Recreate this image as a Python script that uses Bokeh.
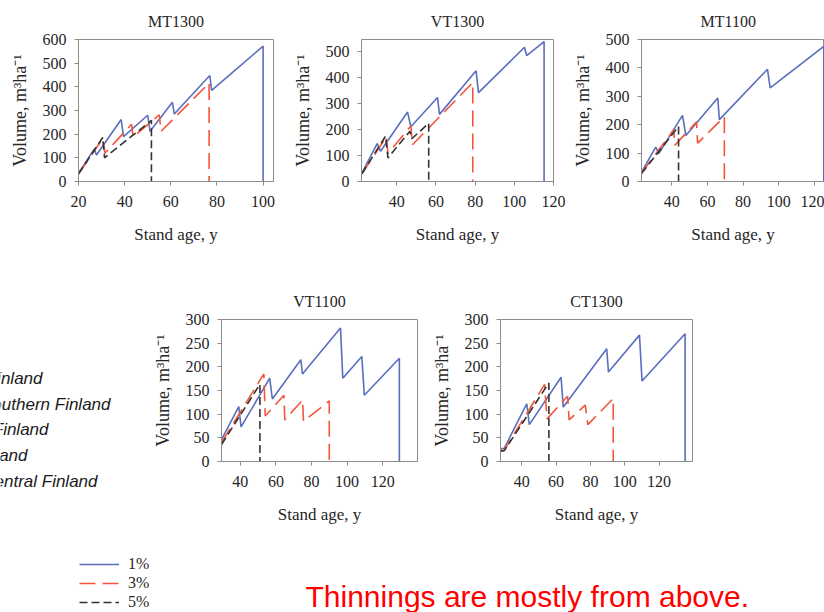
from bokeh.plotting import figure
from bokeh.layouts import row, column
from bokeh.models import Range1d, SingleIntervalTicker, Label, Legend, LegendItem
from bokeh.embed import file_html
from bokeh.resources import INLINE

# ---------------- data ----------------
series_labels = ["1%", "3%", "5%"]
panel_titles = ["MT1300", "VT1300", "MT1100", "VT1100", "CT1300"]
x_label = "Stand age, y"
y_label = "Volume, m³ha⁻¹"
note_lines = ["Finland", "Southern Finland", "Finland", "Finland", "Central Finland"]
message = "Thinnings are mostly from above."

# MT1300
mt1300_age_1 = [20, 26.8, 27.8, 38.5, 39.5, 50, 51, 60.7, 61.5, 76.9, 77.7, 100, 100]
mt1300_vol_1 = [35, 137, 112, 262, 190, 280, 212, 335, 285, 448, 385, 572, 0]
mt1300_age_3 = [20, 30.5, 31.5, 43, 43.7, 55, 55.8, 76.6, 76.6]
mt1300_vol_3 = [32, 182, 120, 242, 188, 282, 212, 416, 0]
mt1300_age_5 = [20, 30.5, 31.3, 51.6, 51.6]
mt1300_vol_5 = [32, 186, 100, 258, 0]

# VT1300
vt1300_age_1 = [22.2, 30, 31.7, 45.5, 47.2, 60.8, 61.8, 80.5, 81.7, 105.2, 106.3, 115.2, 115.2]
vt1300_vol_1 = [32, 146, 117, 268, 211, 324, 259, 427, 343, 518, 486, 540, 0]
vt1300_age_3 = [22.2, 34.7, 35.5, 47.2, 48, 78.8, 78.8]
vt1300_vol_3 = [30, 172, 108, 214, 142, 382, 0]
vt1300_age_5 = [22.2, 34.3, 35.5, 46.7, 47.7, 56.3, 56.3]
vt1300_vol_5 = [30, 175, 91, 194, 165, 225, 0]

# MT1100
mt1100_age_1 = [23, 31, 32.7, 46, 47.9, 65.8, 66.7, 93.7, 95.2, 125.3, 125.3]
mt1100_vol_1 = [33, 121, 98, 233, 162, 294, 218, 395, 330, 476, 0]
mt1100_age_3 = [23, 41.1, 41.6, 53.9, 54.5, 69.5, 69.5]
mt1100_vol_3 = [30, 182, 127, 210, 135, 228, 0]
mt1100_age_5 = [23, 43.8, 43.8]
mt1100_vol_5 = [28, 194, 0]

# VT1100
vt1100_age_1 = [29.4, 39.1, 40.4, 56.5, 58, 74, 74.9, 96.3, 97.6, 108.3, 109.7, 129.4, 129.4]
vt1100_vol_1 = [46, 116, 73, 176, 132, 215, 185, 282, 176, 222, 140, 218, 0]
vt1100_age_3 = [29.4, 53.2, 54, 64.5, 65, 75, 75.5, 90, 90]
vt1100_vol_3 = [40, 185, 96, 140, 88, 130, 85, 128, 0]
vt1100_age_5 = [29.4, 51, 51]
vt1100_vol_5 = [36, 163, 0]

# CT1300
ct1300_age_1 = [27.6, 29.8, 42.9, 44.4, 62.9, 64.2, 89.5, 90.5, 108.6, 110.1, 135.2, 135.2]
ct1300_vol_1 = [27, 28, 122, 78, 178, 115, 238, 189, 267, 170, 270, 0]
ct1300_age_3 = [27.6, 29.8, 53.3, 54.7, 66.7, 67.6, 77, 78.5, 93.3, 93.3]
ct1300_vol_3 = [23, 24, 163, 90, 138, 88, 119, 78, 133, 0]
ct1300_age_5 = [27.6, 29.8, 55.8, 55.8]
ct1300_vol_5 = [22, 23, 166, 0]

panel_data = [
    [(mt1300_age_1, mt1300_vol_1), (mt1300_age_3, mt1300_vol_3), (mt1300_age_5, mt1300_vol_5)],
    [(vt1300_age_1, vt1300_vol_1), (vt1300_age_3, vt1300_vol_3), (vt1300_age_5, vt1300_vol_5)],
    [(mt1100_age_1, mt1100_vol_1), (mt1100_age_3, mt1100_vol_3), (mt1100_age_5, mt1100_vol_5)],
    [(vt1100_age_1, vt1100_vol_1), (vt1100_age_3, vt1100_vol_3), (vt1100_age_5, vt1100_vol_5)],
    [(ct1300_age_1, ct1300_vol_1), (ct1300_age_3, ct1300_vol_3), (ct1300_age_5, ct1300_vol_5)],
]

# ---------------- styles ----------------
SERIF = "Liberation Serif"
SANS = "Liberation Sans"
TXT = "#262626"
AXC = "#8c8c8c"
line_styles = [
    dict(line_color="#5a6ebe", line_width=1.6, line_dash="solid"),
    dict(line_color="#f4553a", line_width=1.6, line_dash="16 7"),
    dict(line_color="#333333", line_width=1.6, line_dash="8 4"),
]

# geometry of each panel: width, height, borders(l, r, t, b), x range, y range, y tick step
geo = [
    dict(w=289, h=280, b=(78, 16, 39, 99), xr=(20, 104.5), yr=(0, 600), yi=100),
    dict(w=280, h=280, b=(68, 16, 39, 99), xr=(22, 120), yr=(0, 548), yi=100),
    dict(w=255, h=280, b=(68, 0, 39, 99), xr=(23, 125.7), yr=(0, 500), yi=100),
    dict(w=279, h=265, b=(68, 11, 39, 84), xr=(29.4, 139.6), yr=(0, 300), yi=50),
    dict(w=292, h=265, b=(69, 28, 39, 84), xr=(27.6, 139.5), yr=(0, 300), yi=50),
]


def make_panel(i):
    g = geo[i]
    l, r, t, b = g["b"]
    p = figure(width=g["w"], height=g["h"], x_range=Range1d(*g["xr"]), y_range=Range1d(*g["yr"]),
               output_backend="svg", toolbar_location=None,
               min_border_left=l, min_border_right=r, min_border_top=t, min_border_bottom=b,
               title=panel_titles[i])
    p.title.text_font = SERIF
    p.title.text_font_size = "16px"
    p.title.text_font_style = "normal"
    p.title.text_color = TXT
    p.title.standoff = 20
    if i == 2:
        p.title.align = "left"
        p.title.offset = 59
    else:
        p.title.align = "center"
    p.grid.visible = False
    p.outline_line_color = AXC
    p.xaxis.ticker = SingleIntervalTicker(interval=20, num_minor_ticks=0)
    p.yaxis.ticker = SingleIntervalTicker(interval=g["yi"], num_minor_ticks=0)
    for ax in (p.xaxis[0], p.yaxis[0]):
        ax.axis_line_color = AXC
        ax.major_tick_line_color = AXC
        ax.major_tick_out = 4
        ax.major_tick_in = 0
        ax.minor_tick_line_color = None
        ax.major_label_text_font = SERIF
        ax.major_label_text_font_size = "16px"
        ax.major_label_text_color = TXT
        ax.axis_label_text_font = SERIF
        ax.axis_label_text_font_style = "normal"
        ax.axis_label_text_color = TXT
    p.xaxis.axis_label_text_font_size = "17px"
    p.yaxis.axis_label_text_font_size = "18px"
    p.xaxis.major_label_standoff = 10
    p.yaxis.major_label_standoff = 8
    p.xaxis.axis_label = x_label
    p.yaxis.axis_label = y_label
    p.xaxis.axis_label_standoff = 15
    p.yaxis.axis_label_standoff = 10
    for (ages, vols), st in zip(panel_data[i], line_styles):
        p.line(ages, vols, **st)
    return p


panels = [make_panel(i) for i in range(5)]

# left strip (rows 2-3): note texts cut at the slide's left edge, and the legend
left = figure(width=149, height=332, x_range=Range1d(0, 149), y_range=Range1d(612, 280),
              output_backend="svg", toolbar_location=None, min_border=0,
              x_axis_location=None, y_axis_location=None)
left.grid.visible = False
left.outline_line_color = None
note_right = [42, 110, 48, 27, 97]
for k, txt in enumerate(note_lines):
    left.add_layout(Label(x=note_right[k], y=378 + 25.7 * k, text=txt, text_align="right",
                          text_baseline="middle", text_font=SANS, text_font_style="italic",
                          text_font_size="17px", text_color="#1a1a1a"))
items = []
for (ages, vols), lab, st in zip(panel_data[0], series_labels, line_styles):
    rr = left.line(ages, vols, visible=False, **st)
    items.append(LegendItem(label=lab, renderers=[rr]))
leg = Legend(items=items, location=(79, 1), orientation="vertical", glyph_width=40, glyph_height=18,
             label_height=18, label_standoff=9, spacing=1, padding=0, margin=0,
             border_line_color=None, background_fill_alpha=0,
             label_text_font=SERIF, label_text_font_size="16px", label_text_color=TXT)
left.add_layout(leg)

# message strip
msg = figure(width=675, height=67, x_range=Range1d(149, 824), y_range=Range1d(612, 545),
             output_backend="svg", toolbar_location=None, min_border=0,
             x_axis_location=None, y_axis_location=None)
msg.grid.visible = False
msg.outline_line_color = None
msg.add_layout(Label(x=305, y=596, text=message, text_baseline="middle", text_align="left",
                     text_font=SANS, text_font_size="30px", text_color="#ff0000"))

layout = column(row(panels[0], panels[1], panels[2]),
                row(left, column(row(panels[3], panels[4]), msg)))

open("out.html", "w").write(file_html(layout, INLINE))
